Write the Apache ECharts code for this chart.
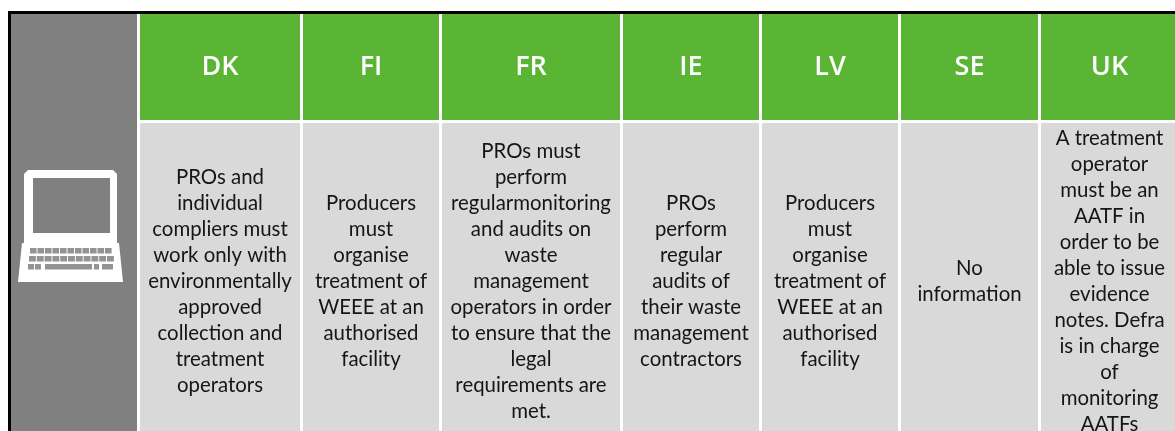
<!DOCTYPE html>
<html>
<head>
<meta charset="utf-8">
<title>WEEE treatment obligations</title>
<script src="https://cdn.jsdelivr.net/npm/echarts@6/dist/echarts.min.js"></script>
<style>
  html, body { margin: 0; padding: 0; background: #ffffff; }
  #chart { width: 1175px; height: 431px; }
</style>
</head>
<body>
<div id="chart"></div>
<script>
// table content
const countries = ['DK', 'FI', 'FR', 'IE', 'LV', 'SE', 'UK'];
const dkLines = ['PROs and', 'individual', 'compliers must', 'work only with', 'environmentally', 'approved', 'collection and', 'treatment', 'operators'];
const fiLines = ['Producers', 'must', 'organise', 'treatment of', 'WEEE at an', 'authorised', 'facility'];
const frLines = ['PROs must', 'perform', 'regularmonitoring', 'and audits on', 'waste', 'management', 'operators in order', 'to ensure that the', 'legal', 'requirements are', 'met.'];
const ieLines = ['PROs', 'perform', 'regular', 'audits of', 'their waste', 'management', 'contractors'];
const lvLines = ['Producers', 'must', 'organise', 'treatment of', 'WEEE at an', 'authorised', 'facility'];
const seLines = ['No', 'information'];
const ukLines = ['A treatment', 'operator', 'must be an', 'AATF in', 'order to be', 'able to issue', 'evidence', 'notes. Defra', 'is in charge', 'of', 'monitoring', 'AATFs'];
const bodyLines = [dkLines, fiLines, frLines, ieLines, lvLines, seLines, ukLines];

// column and row sizes in px, first column is the icon one
const columnSizes = [129, 163, 139, 181, 139, 139, 140, 140];
const rowSizes = [109, 320];

const GREEN = '#5ab534';
const GREY = '#808080';
const LIGHT = '#d9d9d9';

const cells = [{ coord: [0, [0, 1]], mergeCells: true, value: '', itemStyle: { color: GREY } }];
countries.forEach(function (name, i) {
  cells.push({
    coord: [i + 1, 0],
    value: name,
    itemStyle: { color: GREEN },
    label: { color: '#ffffff', fontFamily: 'Open Sans', fontSize: 27, fontWeight: 600, padding: [9, 0, 0, 0] }
  });
  cells.push({
    coord: [i + 1, 1],
    value: bodyLines[i].join('\n'),
    itemStyle: { color: LIGHT },
    label: { color: '#151515', fontFamily: 'Lato', fontSize: 20.4, lineHeight: 26, overflow: 'none' }
  });
});

// laptop icon
const icon = [
  {
    type: 'polygon',
    shape: {
      points: [[28, 170], [113, 170], [117, 174], [117, 243], [119, 243], [123, 282], [18, 282], [22, 243], [24, 243], [24, 174]]
    },
    style: { fill: '#ffffff' }
  },
  { type: 'rect', shape: { x: 33, y: 178, width: 77, height: 55 }, style: { fill: GREY } }
];
const keyRows = [
  { y: 248, x: 30, n: 11, w: 6.6 },
  { y: 256, x: 29, n: 11, w: 6.9 },
  { y: 264, x: 28, n: 2, w: 6 }
];
keyRows.forEach(function (row) {
  for (let k = 0; k < row.n; k++) {
    icon.push({
      type: 'rect',
      shape: { x: row.x + k * (row.w + 0.9), y: row.y, width: row.w, height: 5.5 },
      style: { fill: GREY, opacity: 0.85 }
    });
  }
});
icon.push({ type: 'rect', shape: { x: 45, y: 264, width: 47, height: 5.5 }, style: { fill: GREY, opacity: 0.85 } });
icon.push({ type: 'rect', shape: { x: 94, y: 264, width: 5, height: 5.5 }, style: { fill: GREY, opacity: 0.85 } });
icon.push({ type: 'rect', shape: { x: 102, y: 264, width: 11, height: 5.5 }, style: { fill: GREY, opacity: 0.85 } });

// black frame on the top and left edges
const frame = [
  { type: 'rect', shape: { x: 8, y: 11, width: 1167, height: 3 }, style: { fill: '#000000' } },
  { type: 'rect', shape: { x: 8, y: 11, width: 3, height: 420 }, style: { fill: '#000000' } }
];

const chart = echarts.init(document.getElementById('chart'));
chart.setOption({
  backgroundColor: '#ffffff',
  animation: false,
  matrix: {
    left: 9.5,
    top: 12.5,
    width: columnSizes.reduce(function (a, b) { return a + b; }, 0),
    height: rowSizes.reduce(function (a, b) { return a + b; }, 0),
    x: { show: false, data: columnSizes.map(function (s, i) { return { value: 'c' + i, size: s }; }) },
    y: { show: false, data: rowSizes.map(function (s, i) { return { value: 'r' + i, size: s }; }) },
    body: {
      itemStyle: { borderColor: '#ffffff', borderWidth: 3 },
      data: cells
    }
  },
  graphic: { elements: frame.concat(icon).map(function (el) { return Object.assign({ z: 100 }, el); }) }
});
</script>
</body>
</html>
